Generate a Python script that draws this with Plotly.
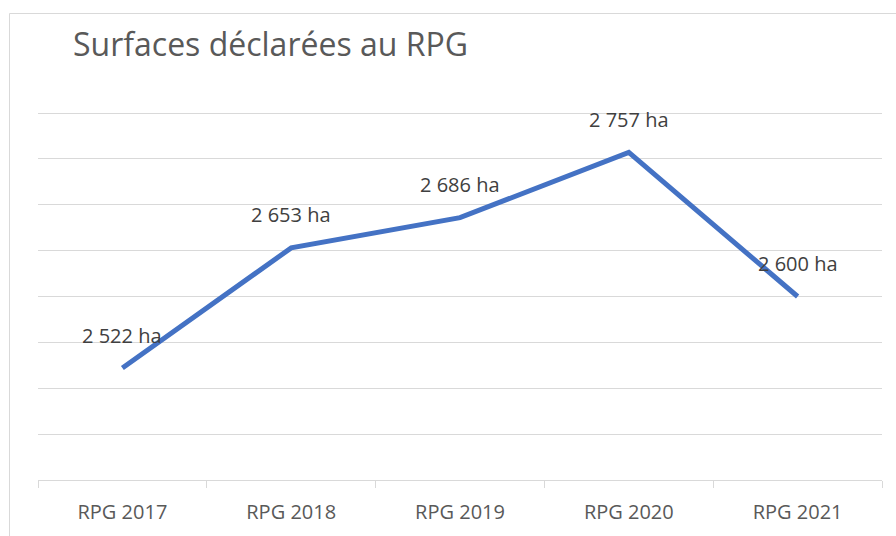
import plotly.graph_objects as go

# Surfaces déclarées au RPG (ha)
campagnes = ["RPG 2017", "RPG 2018", "RPG 2019", "RPG 2020", "RPG 2021"]
surfaces_ha = [2522, 2653, 2686, 2757, 2600]
y_min, y_max, y_step = 2400, 2800, 50

W, H = 896, 536
ML, MR, MT, MB = 38, 14, 113, 56
PW, PH = W - ML - MR, H - MT - MB

GRID = "#D9D9D9"
TXT = "#595959"
LBL = "#404040"
FONT = "Open Sans"


def fmt_ha(v):
    return f"{v:,}".replace(",", " ") + " ha"


def px_x(p):
    return (p - ML) / PW


def px_y(p):
    return 1 - (p - MT) / PH


fig = go.Figure()
fig.add_trace(go.Scatter(
    x=campagnes, y=surfaces_ha, mode="lines",
    line=dict(color="#4472C4", width=5),
    hoverinfo="skip", cliponaxis=False,
))

for c, v in zip(campagnes, surfaces_ha):
    fig.add_annotation(
        x=c, y=v, text=fmt_ha(v), showarrow=False,
        xanchor="center", yanchor="middle", yshift=33,
        font=dict(family=FONT, size=20, color=LBL),
    )

# top gridline sits on the edge of the plot area (nudged half a pixel to stay crisp)
fig.add_shape(
    type="line", xref="paper", yref="paper",
    x0=0, x1=1, y0=px_y(MT + 0.5), y1=px_y(MT + 0.5),
    line=dict(color=GRID, width=1), layer="below",
)

# outer chart frame
fig.add_shape(
    type="rect", xref="paper", yref="paper",
    x0=px_x(9.5), x1=px_x(W + 5), y0=px_y(H + 5), y1=px_y(13.5),
    line=dict(color=GRID, width=1), fillcolor="rgba(0,0,0,0)", layer="below",
)

fig.update_layout(
    width=W, height=H,
    margin=dict(l=ML, r=MR, t=MT, b=MB),
    paper_bgcolor="white", plot_bgcolor="white",
    showlegend=False,
    title=dict(
        text="Surfaces déclarées au RPG",
        xref="container", yref="container",
        x=73 / W, xanchor="left", y=1 - 45 / H, yanchor="middle",
        font=dict(family=FONT, size=32, color=TXT),
    ),
    xaxis=dict(
        type="category", range=[-0.5, len(campagnes) - 0.5],
        showgrid=False, zeroline=False,
        showline=True, linecolor=GRID, linewidth=1,
        ticks="outside", tickson="boundaries", ticklen=7, tickcolor=GRID,
        ticklabelstandoff=14,
        tickfont=dict(family=FONT, size=20, color=TXT),
    ),
    yaxis=dict(
        range=[y_min, y_max], dtick=y_step, tick0=y_min,
        showgrid=True, gridcolor=GRID, gridwidth=1,
        zeroline=False, showline=False, showticklabels=False, ticks="",
    ),
)

fig.write_html("out.html")
